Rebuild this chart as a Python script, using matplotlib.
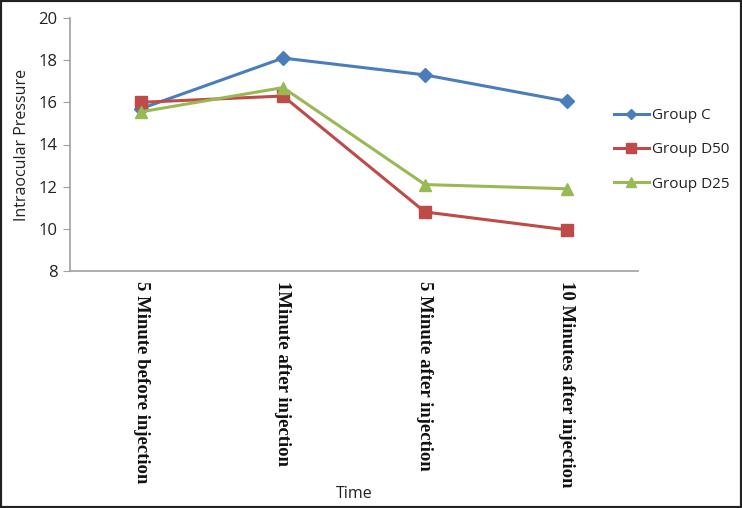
import matplotlib
matplotlib.use("Agg")
import matplotlib.pyplot as plt
from matplotlib.patches import Rectangle

# data
times = ["5 Minute before injection", "1Minute after injection",
         "5 Minute after injection", "10 Minutes after injection"]
group_c = [15.7, 18.1, 17.3, 16.05]
group_d50 = [16.0, 16.3, 10.8, 9.95]
group_d25 = [15.55, 16.7, 12.1, 11.9]
y_ticks = [8, 10, 12, 14, 16, 18, 20]

W, H = 742, 508
fig = plt.figure(figsize=(W / 100, H / 100), dpi=100)
ax = fig.add_axes([70 / W, 1 - 271 / H, (638 - 70) / W, (271 - 18) / H])

x = list(range(len(times)))
ax.plot(x, group_c, "-D", color="#4a7ebb", lw=2.2, ms=7, label="Group C")
ax.plot(x, group_d50, "-s", color="#be4b48", lw=2.2, ms=8.5, label="Group D50")
ax.plot(x, group_d25, "-^", color="#98b954", lw=2.2, ms=9, label="Group D25")

ax.set_xlim(-0.5, len(times) - 0.5)
ax.set_ylim(8, 20)
ax.set_yticks(y_ticks)
ax.set_yticklabels([str(t) for t in y_ticks], fontsize=12, family="Open Sans",
                   color="#222222")
ax.set_xticks(x)
ax.set_xticklabels(times, rotation=-90, va="top", ha="center",
                   family="Liberation Serif", fontweight="bold", fontsize=13.5,
                   color="#111111")
ax.tick_params(axis="x", length=0, pad=7)
ax.tick_params(axis="y", length=5, color="#a0a0a0", pad=4)

for s in ["top", "right"]:
    ax.spines[s].set_visible(False)
for s in ["left", "bottom"]:
    ax.spines[s].set_color("#a0a0a0")
    ax.spines[s].set_linewidth(1.2)

ax.set_ylabel("Intraocular Pressure", fontsize=11.5, family="Open Sans",
              color="#222222", labelpad=6)
fig.text(354 / W, 1 - 494 / H, "Time", ha="center", va="center",
         fontsize=11.5, family="Open Sans", color="#222222")

leg = ax.legend(loc="center left", bbox_to_anchor=(600 / W, 1 - 150 / H),
                bbox_transform=fig.transFigure, frameon=False,
                prop={"family": "Open Sans", "size": 11},
                handlelength=2.3, handletextpad=0.2, labelspacing=1.25,
                markerscale=0.8)
for t in leg.get_texts():
    t.set_color("#222222")

fig.patches.append(Rectangle((0, 0), 1, 1, transform=fig.transFigure,
                             fill=False, edgecolor="#222222", lw=3))

fig.savefig("out.png", dpi=100)
